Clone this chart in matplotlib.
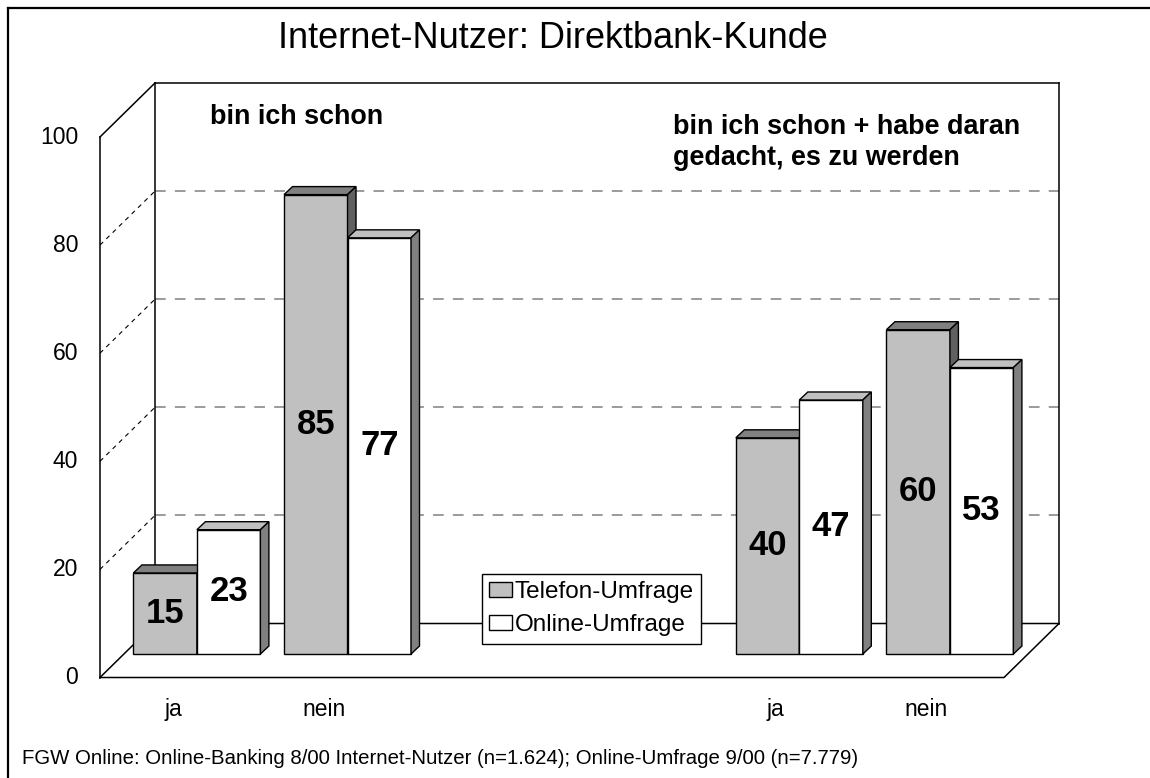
import numpy as np
import matplotlib.pyplot as plt
from matplotlib.patches import Polygon, Patch
from matplotlib.lines import Line2D

plt.rcParams['font.family'] = ['Liberation Sans', 'DejaVu Sans']

# data
categories = ['ja', 'nein', 'ja', 'nein']
cat_pos = [0, 1, 4, 5]
telefon = [15, 85, 40, 60]
online = [23, 77, 47, 53]
series_names = ['Telefon-Umfrage', 'Online-Umfrage']
yticks = [0, 20, 40, 60, 80, 100]

# pseudo 3d geometry (data units)
depth = np.array([0.3652, 9.99])      # full depth of the floor
bar_off = depth * 0.435               # where the bars stand
bar_d = np.array([0.0564, 1.48])      # depth of a bar
bw = 0.4216
x0, x1 = -0.485, 5.518

fig = plt.figure(figsize=(11.5, 7.78), dpi=100)
ax = fig.add_axes([0, 0, 1, 1])
ax.set_xlim(-1.1487, 6.4874)
ax.set_ylim(-18.594, 125.35)
ax.axis('off')

# walls and floor
bx0, bx1 = x0 + depth[0], x1 + depth[0]
k = dict(color='black', lw=1.1, zorder=2)
ax.plot([x0, x0], [0, 100], **k)
ax.plot([x0, bx0], [100, 100 + depth[1]], **k)
ax.plot([bx0, bx0], [depth[1], 100 + depth[1]], **k)
ax.plot([bx1, bx1], [depth[1], 100 + depth[1]], **k)
ax.plot([bx0, bx1], [100 + depth[1], 100 + depth[1]], **k)
ax.plot([x0, x1, bx1], [0, 0, depth[1]], **k)
ax.plot([x0, bx0, bx1], [0, depth[1], depth[1]], **k)

for v in yticks[1:-1]:
    ax.plot([bx0, bx1], [v + depth[1]] * 2, color='#808080', lw=1.1,
            dashes=(7, 6), zorder=1)
    ax.plot([x0, bx0], [v, v + depth[1]], color='black', lw=0.8,
            dashes=(4, 4), zorder=1)
for v in yticks:
    ax.text(x0 - 0.145, v, str(v), ha='right', va='center', fontsize=16.5)

for p, c in zip(cat_pos, categories):
    ax.text(p, -6.0, c, ha='center', va='center', fontsize=16.5)


def bar3d(xl, val, front, top, side):
    xl = xl + bar_off[0]
    yb = bar_off[1]
    ax.bar(xl, val, width=bw, bottom=yb, align='edge', color=front,
           edgecolor='black', lw=1, zorder=3)
    xr = xl + bw
    yt = yb + val
    ax.add_patch(Polygon([(xl, yt), (xr, yt), (xr + bar_d[0], yt + bar_d[1]),
                          (xl + bar_d[0], yt + bar_d[1])], closed=True,
                         fc=top, ec='black', lw=1, zorder=3))
    ax.add_patch(Polygon([(xr, yb), (xr + bar_d[0], yb + bar_d[1]),
                          (xr + bar_d[0], yt + bar_d[1]), (xr, yt)], closed=True,
                         fc=side, ec='black', lw=1, zorder=3))
    ax.text(xl + bw / 2, yb + val / 2, str(val), ha='center', va='center',
            fontsize=25, fontweight='bold', zorder=4)


for p, t, o in zip(cat_pos, telefon, online):
    bar3d(p - bw, t, '#c0c0c0', '#808080', '#606060')
    bar3d(p, o, 'white', '#c0c0c0', '#808080')

ax.text(0.2457, 103.7, 'bin ich schon', ha='left', va='center',
        fontsize=19.4, fontweight='bold')
ax.text(3.32, 101.8, 'bin ich schon + habe daran', ha='left', va='center',
        fontsize=19.4, fontweight='bold')
ax.text(3.32, 96.1, 'gedacht, es zu werden', ha='left', va='center',
        fontsize=19.4, fontweight='bold')

handles = [Patch(fc='#c0c0c0', ec='black', lw=1),
           Patch(fc='white', ec='black', lw=1)]
leg = ax.legend(handles, series_names, loc='upper left',
                bbox_to_anchor=(482 / 1150, 1 - 574 / 778), fontsize=17.5,
                frameon=True, fancybox=False, framealpha=1, edgecolor='black',
                borderaxespad=0, borderpad=0.3, handlelength=0.92,
                handleheight=0.55, handletextpad=0.12, labelspacing=0.45)
leg.get_frame().set_linewidth(1)
leg.set_zorder(5)

fig.text(553 / 1150, 1 - 38 / 778, 'Internet-Nutzer: Direktbank-Kunde',
         ha='center', va='center', fontsize=26)
fig.text(22 / 1150, 1 - 758 / 778,
         'FGW Online: Online-Banking 8/00 Internet-Nutzer (n=1.624); '
         'Online-Umfrage 9/00 (n=7.779)', ha='left', va='center', fontsize=14.7)

# outer frame (only left and top are visible)
fig.add_artist(Line2D([8 / 1150, 8 / 1150], [0, 1 - 8 / 778], color='black', lw=1.6))
fig.add_artist(Line2D([8 / 1150, 1], [1 - 8 / 778, 1 - 8 / 778], color='black', lw=1.6))

fig.savefig('out.png', dpi=100)
